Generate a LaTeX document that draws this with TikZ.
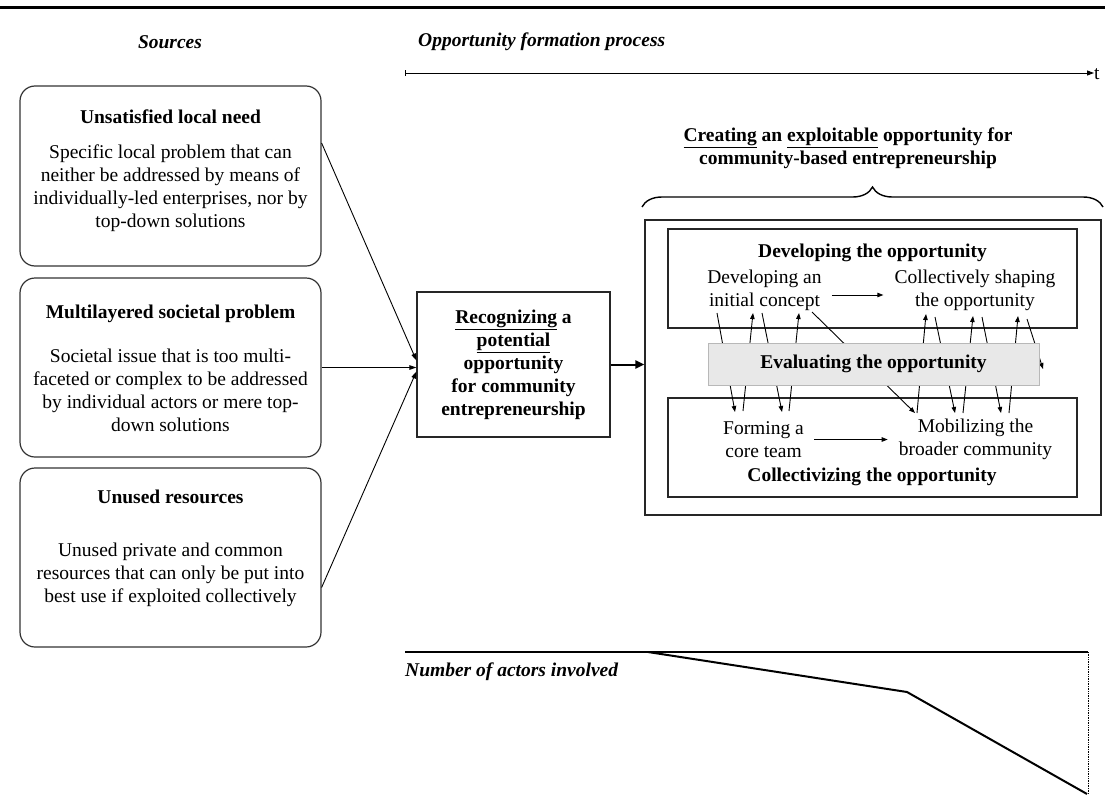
\documentclass[tikz,border=0pt]{standalone}
\usepackage{fontspec}
\setmainfont{Liberation Serif}
\usetikzlibrary{arrows.meta,calc,decorations.pathreplacing}
\begin{document}
\begin{tikzpicture}[x=1pt,y=-1pt,
  txt/.style={font=\fontsize{19.5}{23}\selectfont, align=center, inner sep=0pt},
  bold/.style={font=\fontsize{19.5}{23}\selectfont\bfseries, align=center, inner sep=0pt},
  lbl/.style={font=\fontsize{19.5}{23}\selectfont\bfseries\itshape, inner sep=0pt},
  srcbox/.style={draw=black!80, line width=1.2pt, rounded corners=15pt,
    minimum width=301pt, minimum height=#1},
  sqbox/.style={draw=black!85, line width=1.2pt},
  tip/.style={line width=0.9pt, -{Triangle[length=7pt,width=4.5pt]}},
  ltip/.style={line width=0.9pt, -{Triangle[length=6pt,width=4.5pt]}}
]
\useasboundingbox (0,0) rectangle (1105,803);

% top rule
\draw[line width=3pt] (0,7) -- (1105,7);

% column headings and time axis
\node[lbl] (hsrc) at (170,42) {Sources};
\node[lbl, anchor=west] (hproc) at (418,42) {Opportunity formation process};
\coordinate (tl0) at (405,73);
\node[txt, anchor=west] (tlab) at (1094,74) {t};
\draw[line width=0.9pt, {Bar[width=6pt]}-{Triangle[length=7pt,width=5pt]}] (tl0) -- (tlab.west |- tl0);

% sources
\node[srcbox=180pt] (src1) at (170.5,176) {};
\node[bold] (src1t) at (170.5,117) {Unsatisfied local need};
\node[txt] (src1b) at (170.5,188.5) {Specific local problem that can\\neither be addressed by means of\\individually-led enterprises, nor by\\top-down solutions};

\node[srcbox=179pt] (src2) at (170.5,367.5) {};
\node[bold] (src2t) at (170.5,313.5) {Multilayered societal problem};
\node[txt] (src2b) at (170.5,390) {Societal issue that is too multi-\\faceted or complex to be addressed\\by individual actors or mere top-\\down solutions};

\node[srcbox=179pt] (src3) at (170.5,557.5) {};
\node[bold] (src3t) at (170.5,497) {Unused resources};
\node[txt] (src3b) at (170.5,574.5) {Unused private and common\\resources that can only be put into\\best use if exploited collectively};

% recognition
\node[sqbox, bold, minimum width=193pt, minimum height=145pt] (rec) at (513.5,364.5)
  {\underline{Recognizing} a\\\underline{potential}\\opportunity\\for community\\entrepreneurship};

\draw[tip] ($(src1.east)+(0,-33)$) -- ($(rec.west)+(0,-4)$);
\draw[tip] (src2.east) -- (rec.west |- src2.east);
\draw[tip] ($(src3.east)+(0,30)$) -- ($(rec.west)+(0,7)$);

% creation
\node[bold] (ctitle) at (848,148.5) {\underline{Creating} an \underline{exploitable} opportunity for\\community-based entrepreneurship};
\coordinate (brl) at (642,207);
\coordinate (brr) at (1103,207);
\draw[line width=1.4pt, decorate, decoration={brace, amplitude=20pt}] (brl) -- (brr);

\node[sqbox, minimum width=456pt, minimum height=295pt] (outer) at (873,367.5) {};
\draw[line width=2pt, -{Triangle[length=9pt,width=8pt]}] (rec.east) -- (outer.west |- rec.east);

\node[sqbox, minimum width=409pt, minimum height=99pt] (dev) at (872.5,278.5) {};
\node[sqbox, minimum width=409pt, minimum height=99pt] (col) at (872.5,447.5) {};

\node[bold] (devt) at (872.5,253) {Developing the opportunity};
\node[txt] (dev1) at (764.5,290.5) {Developing an\\initial concept};
\node[txt] (dev2) at (975,290.5) {Collectively shaping\\the opportunity};
\node[txt] (col1) at (763.5,439.5) {Forming a\\core team};
\node[txt] (col2) at (975.5,439.5) {Mobilizing the\\broader community};
\node[bold] (colt) at (872,476.5) {Collectivizing the opportunity};

\draw[ltip, shorten <=10pt, shorten >=11pt] ($(dev1.east)+(0,4.5)$) -- ($(dev2.west)+(0,4.5)$);
\draw[ltip, shorten <=10pt, shorten >=11pt] ($(col1.east)+(0,0)$) -- ($(col2.west)+(0,0)$);

% iterations between developing and collectivizing
\foreach \n/\xa/\ya/\xb/\yb in {
  a1/717/313/735/412, a2/743/411/753/313, a3/762/313/782/412, a4/789/411/799/313,
  a5/812/312/915/413, a6/917/413/926/314, a7/935/317/955/413, a8/963/413/973/316,
  a9/982/317/1001/413, a10/1009/413/1018/316, a11/1027/319/1043/369} {
  \coordinate (\n s) at (\xa,\yb);
  \coordinate (\n s) at (\xa,\ya);
  \coordinate (\n e) at (\xb,\yb);
  \draw[ltip] (\n s) -- (\n e);
}

\node[draw=black!28, fill=black!9, line width=0.8pt, bold,
  minimum width=331pt, minimum height=42pt] (eval) at (873.5,364) {Evaluating the opportunity};

% number of actors involved
\coordinate (n0) at (405,652);
\coordinate (n1) at (1088,652);
\coordinate (d0) at (648,652);
\coordinate (d1) at (907,692);
\coordinate (d2) at (1087,794);
\draw[line width=2.6pt] (n0) -- (n1);
\draw[line width=2pt, line join=round] (d0) -- (d1) -- (d2);
\draw[line width=0.7pt, densely dotted] (n1) -- (n1 |- d2);
\node[lbl, anchor=west] (nact) at (405,672) {Number of actors involved};
\end{tikzpicture}
\end{document}
